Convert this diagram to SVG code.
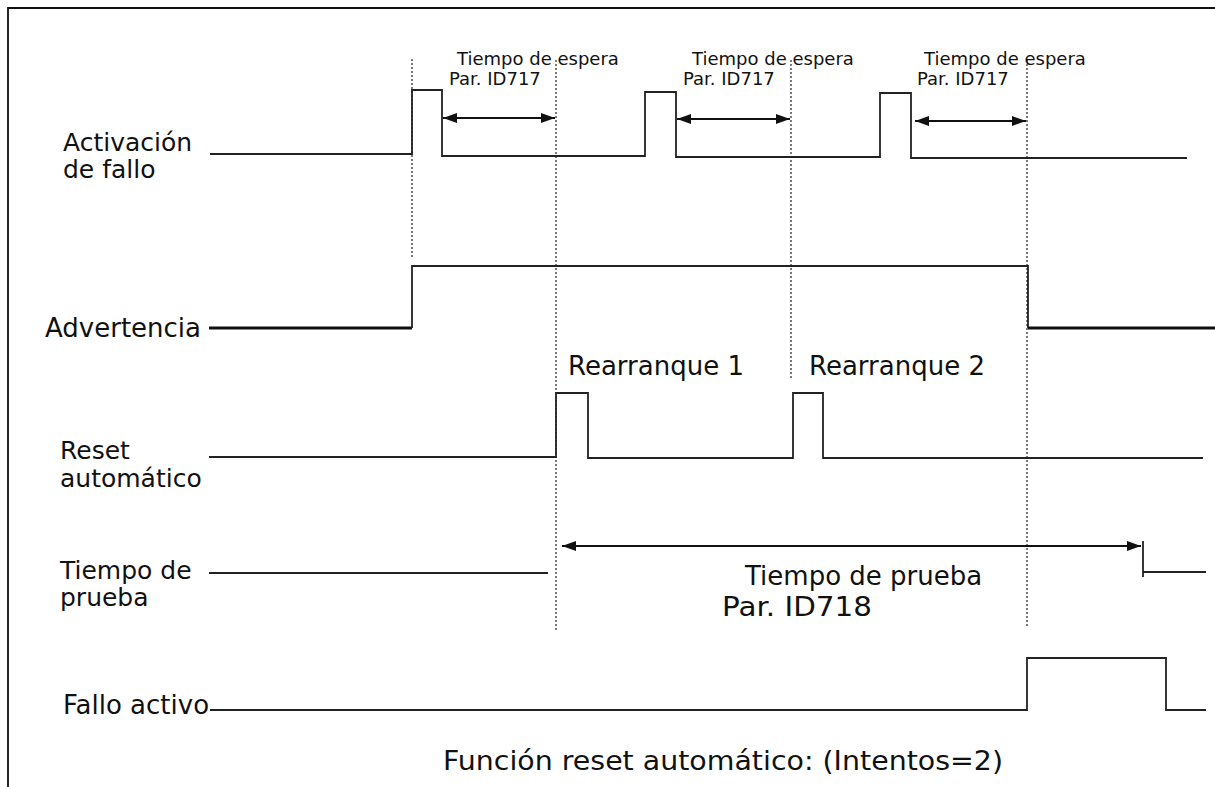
<svg xmlns="http://www.w3.org/2000/svg" width="1215" height="787" viewBox="0 0 1215 787">
  <style>
    .lbl { font-family: "DejaVu Sans", Verdana, sans-serif; font-size: 26px; fill: #111; }
    .lbl2 { font-family: "DejaVu Sans", Verdana, sans-serif; font-size: 25px; fill: #111; }
    .sm { font-family: "DejaVu Sans", Verdana, sans-serif; font-size: 18px; fill: #111; }
    .sig { fill: none; stroke: #222; stroke-width: 1.8; stroke-linejoin: miter; }
    .thick { fill: none; stroke: #111; stroke-width: 3; }
    .dot { fill: none; stroke: #222; stroke-width: 1.2; stroke-dasharray: 2 2; }
    .arr { fill: none; stroke: #111; stroke-width: 1.8; marker-start: url(#ah); marker-end: url(#ah); }
  </style>
  <defs>
    <marker id="ah" viewBox="0 0 14 10" refX="14" refY="5" markerWidth="14" markerHeight="10" markerUnits="userSpaceOnUse" orient="auto-start-reverse">
      <path d="M0,0 L14,5 L0,10 Z" fill="#111"/>
    </marker>
  </defs>
  <rect width="1215" height="787" fill="#fff"/>
  <g id="frame">
    <path d="M8,800 L8,8 L1230,8" fill="none" stroke="#111" stroke-width="1.8"/>
  </g>
  <g id="gridlines">
    <line class="dot" x1="412" y1="59" x2="412" y2="258"/>
    <line class="dot" x1="556" y1="60" x2="556" y2="632"/>
    <line class="dot" x1="791" y1="60" x2="791" y2="380"/>
    <line class="dot" x1="1027" y1="60" x2="1027" y2="628"/>
  </g>
  <g id="activacion">
    <text class="lbl2" x="63" y="151">Activación</text>
    <text class="lbl2" x="63" y="178">de fallo</text>
    <path class="sig" d="M210,154 L412,154 L412,90 L442,90 L442,156 L645,156 L645,92 L676,92 L676,157 L880,157 L880,93 L911,93 L911,158 L1187,158"/>
  </g>
  <g id="espera1">
    <text class="sm" x="457" y="65">Tiempo de espera</text>
    <text class="sm" x="449" y="85">Par. ID717</text>
  </g>
  <g id="espera2">
    <text class="sm" x="692" y="65">Tiempo de espera</text>
    <text class="sm" x="683" y="85">Par. ID717</text>
  </g>
  <g id="espera3">
    <text class="sm" x="924" y="65">Tiempo de espera</text>
    <text class="sm" x="917" y="85">Par. ID717</text>
  </g>
  <g id="advertencia">
    <text class="lbl" x="45" y="337">Advertencia</text>
    <path class="thick" d="M209,328 L412,328"/>
    <path class="sig" d="M412,328 L412,266 L1028,266 L1028,328"/>
    <path class="thick" d="M1028,328 L1215,328"/>
  </g>
  <g id="reset">
    <text class="lbl2" x="60" y="459">Reset</text>
    <text class="lbl2" x="60" y="487">automático</text>
    <path class="sig" d="M209,457 L556,457 L556,393 L588,393 L588,458 L793,458 L793,393 L823,393 L823,458 L1203,458"/>
    <text class="lbl" x="568" y="375">Rearranque 1</text>
    <text class="lbl" x="809" y="375">Rearranque 2</text>
  </g>
  <g id="prueba">
    <text class="lbl2" x="60" y="579">Tiempo de</text>
    <text class="lbl2" x="60" y="606">prueba</text>
    <path class="sig" d="M209,573 L548,573"/>
    <path class="sig" d="M1143,541 L1143,577"/>
    <path class="sig" d="M1143,572 L1206,572"/>
    <text class="lbl" x="745" y="585">Tiempo de prueba</text>
    <text class="lbl" x="722" y="616" textLength="150" lengthAdjust="spacingAndGlyphs">Par. ID718</text>
  </g>
  <g id="fallo">
    <text class="lbl" x="63" y="714">Fallo activo</text>
    <path class="sig" d="M210,710 L1027,710 L1027,658 L1166,658 L1166,710 L1206,710"/>
  </g>
  <g id="caption">
    <text class="lbl" x="443" y="770" textLength="560" lengthAdjust="spacingAndGlyphs">Función reset automático: (Intentos=2)</text>
  </g>
  <g id="connectors">
    <line class="arr" x1="443" y1="118" x2="555" y2="118"/>
    <line class="arr" x1="677" y1="119" x2="790" y2="119"/>
    <line class="arr" x1="915" y1="121" x2="1026" y2="121"/>
    <line class="arr" x1="562" y1="546" x2="1141" y2="546"/>
  </g>
</svg>
